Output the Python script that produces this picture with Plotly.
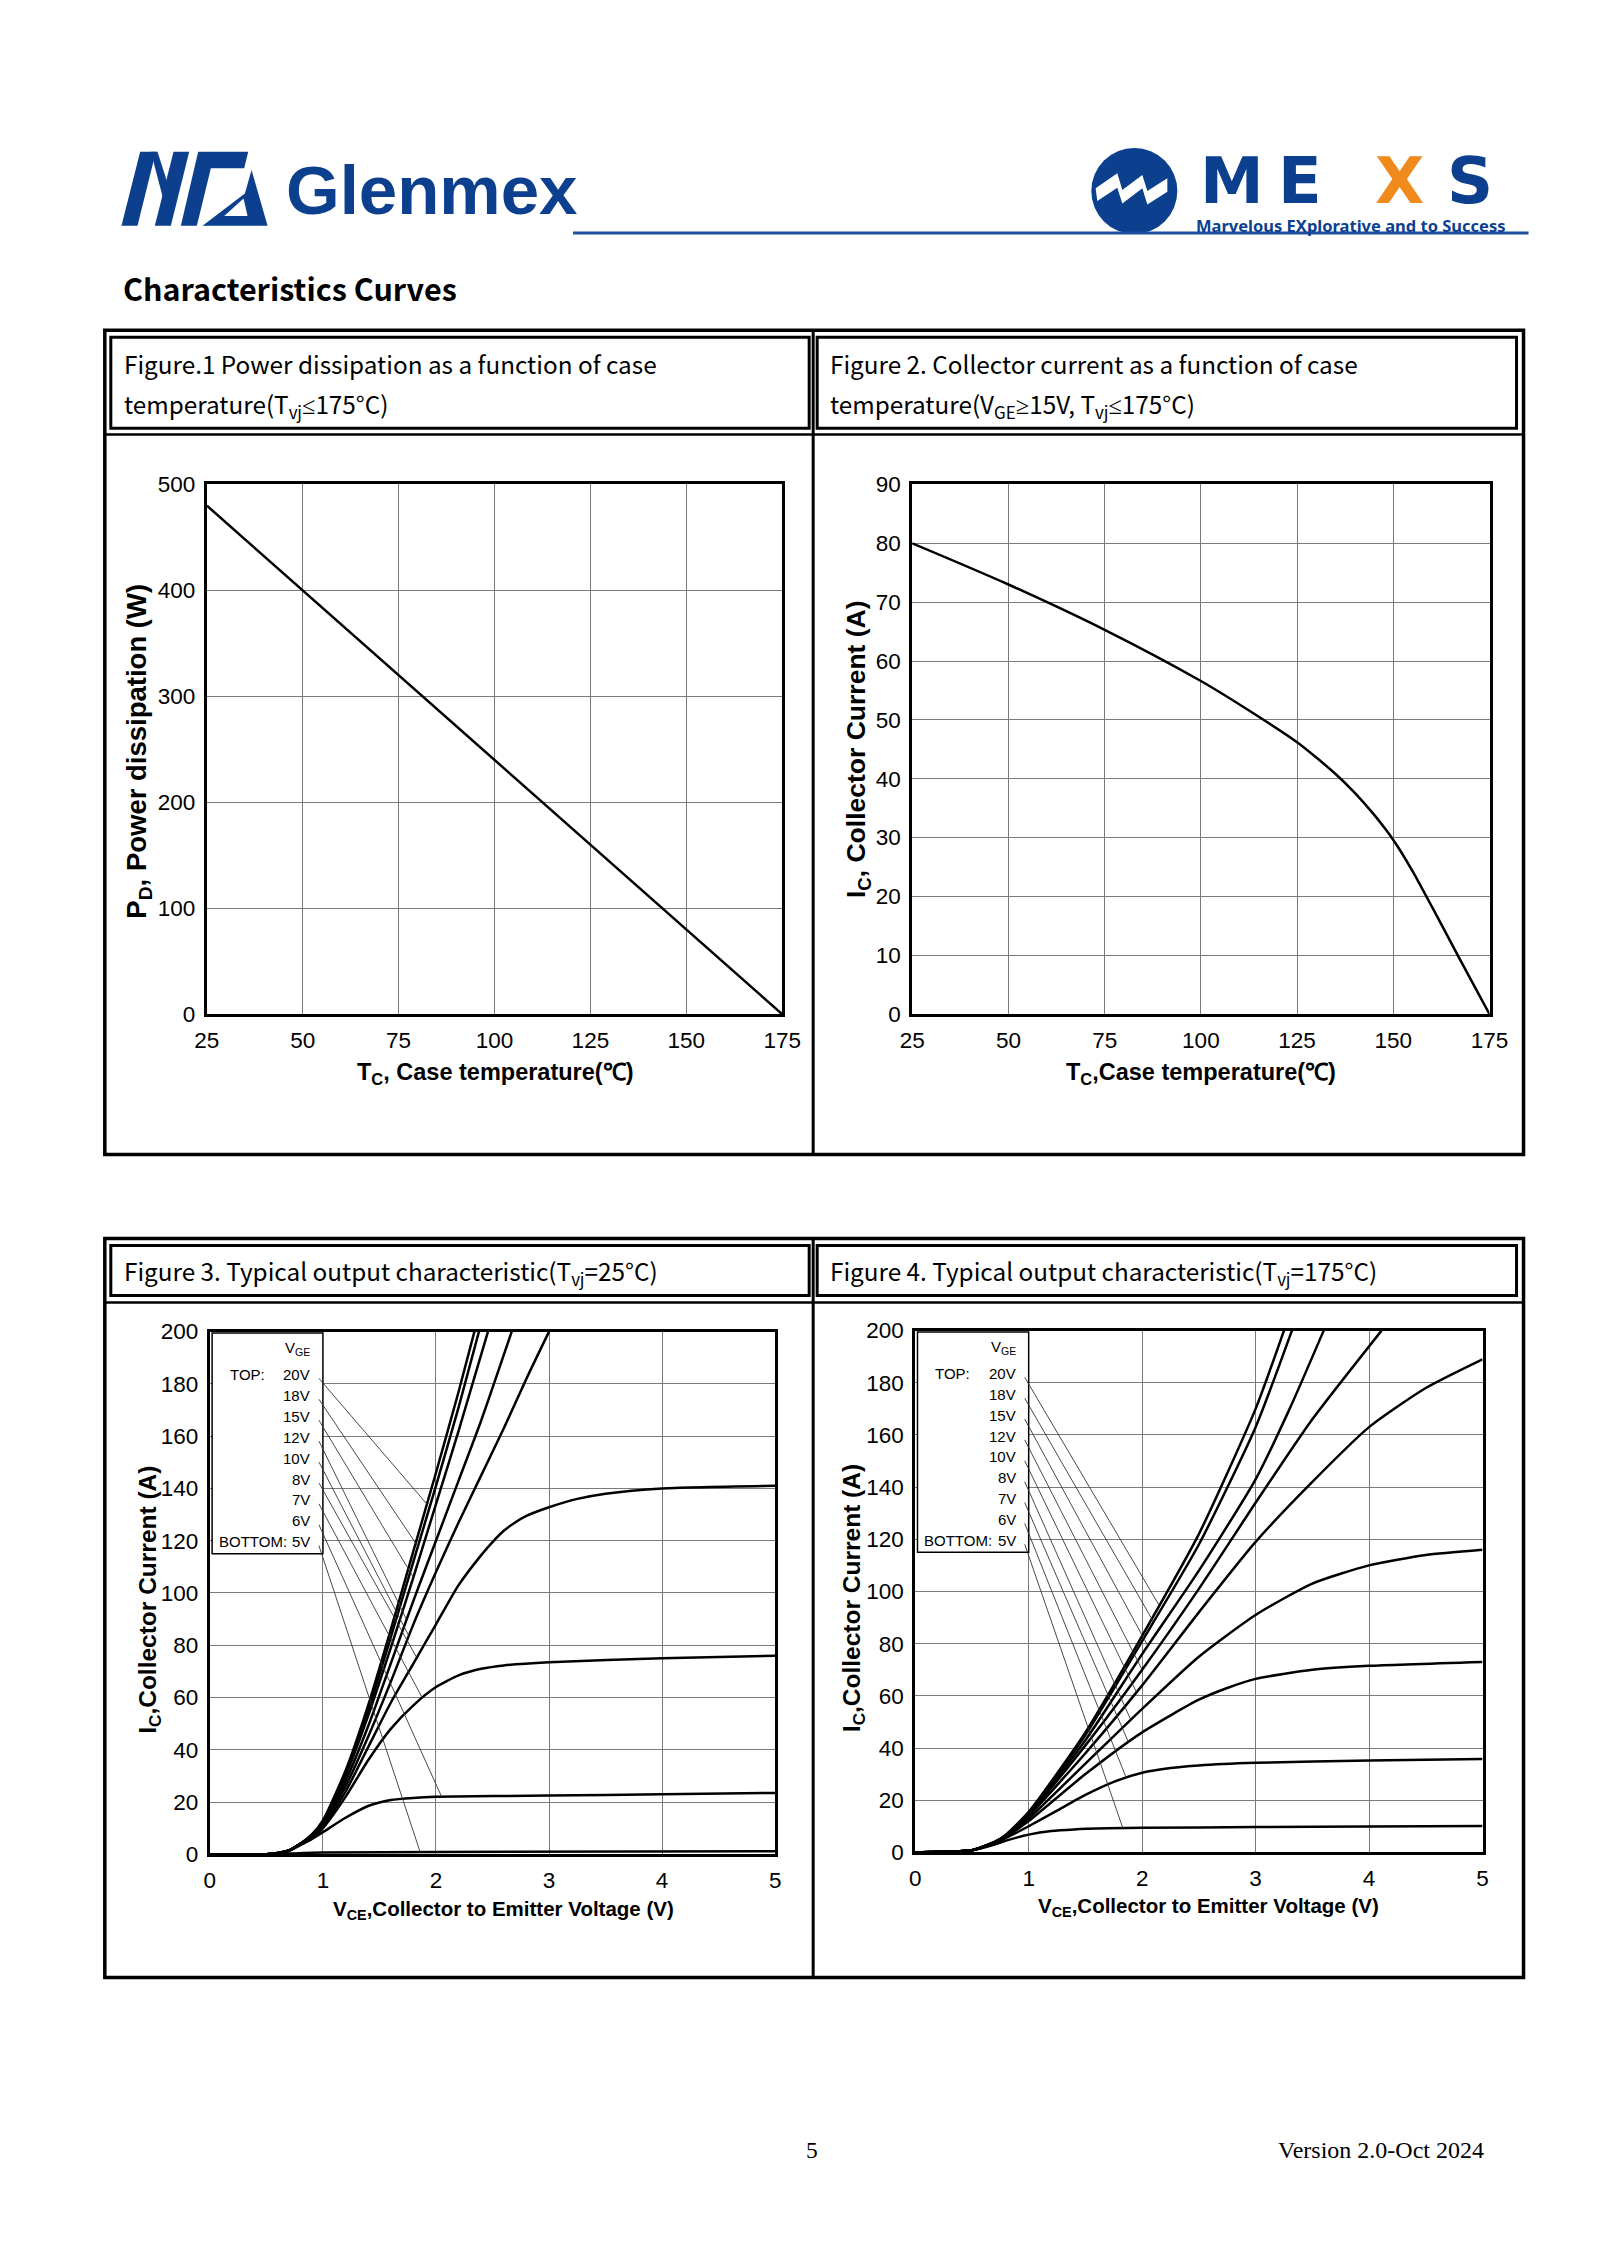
import numpy as np
import plotly.graph_objects as go

W, H = 1600, 2263          # page size
M = 8                      # default body margin of the page
FW, FH = W - 2 * M, H - 2 * M
# measured mapping of the photographed picture: picture = A + S * page
AX, SX = 12.4, 0.9793
AY, SY = 12.3, 0.9875

# ---------------- data ----------------
# Figure 1: power dissipation vs case temperature
fig1_tc = [25, 175]
fig1_pd = [480, 0]

# Figure 2: collector current vs case temperature
fig2_tc = [25, 50, 75, 100, 112, 125, 130, 135, 140, 145, 148, 150, 152, 155, 160, 167, 175]
fig2_ic = [80, 73, 65.3, 56.6, 51.8, 46.2, 43.6, 40.8, 37.6, 33.9, 31.4, 29.6, 27.6, 24.3, 18.3, 9.7, 0]

# Figure 3: output characteristic, Tvj = 25 C
f3_vce_20v = [0, 0.5, 0.6, 0.7, 0.8, 0.9, 1.0, 1.2, 1.4, 1.6, 1.8, 2.0, 2.2, 2.34]
f3_ic_20v = [0, 0, 0.5, 1.5, 4, 7.5, 13, 32, 57, 86, 116, 146, 177, 200]
f3_vce_18v = [0, 0.5, 0.6, 0.7, 0.8, 0.9, 1.0, 1.2, 1.4, 1.6, 1.8, 2.0, 2.2, 2.38]
f3_ic_18v = [0, 0, 0.5, 1.5, 4, 7.3, 12.5, 31, 55, 83, 112, 141, 171, 200]
f3_vce_15v = [0, 0.5, 0.6, 0.7, 0.8, 0.9, 1.0, 1.2, 1.4, 1.6, 1.8, 2.0, 2.2, 2.46]
f3_ic_15v = [0, 0, 0.5, 1.5, 4, 7.1, 12, 30, 53, 79, 106, 134, 162, 200]
f3_vce_12v = [0, 0.5, 0.6, 0.7, 0.8, 0.9, 1.0, 1.2, 1.4, 1.6, 1.8, 2.0, 2.2, 2.4, 2.67]
f3_ic_12v = [0, 0, 0.5, 1.5, 4, 6.8, 11.5, 28, 49, 73, 97, 120, 143, 166, 200]
f3_vce_10v = [0, 0.5, 0.6, 0.7, 0.8, 0.9, 1.0, 1.2, 1.4, 1.6, 1.8, 2.0, 2.2, 2.4, 2.6, 2.8, 3.0]
f3_ic_10v = [0, 0, 0.5, 1.5, 4, 6.5, 11, 26, 45, 66, 88, 108, 127, 145, 163, 182, 200]
f3_vce_8v = [0, 0.5, 0.6, 0.7, 0.8, 0.9, 1.0, 1.2, 1.4, 1.6, 1.8, 2.0, 2.2, 2.4, 2.5, 2.6,
             2.7, 2.8, 3.0, 3.25, 3.5, 4.0, 5.0]
f3_ic_8v = [0, 0, 0.4, 1.5, 4, 6.3, 10.5, 24, 41, 58, 73, 88, 103, 114.5, 119.5, 123.8,
            127, 129.5, 132.8, 136, 138, 140, 141]
f3_vce_7v = [0, 0.5, 0.6, 0.7, 0.8, 0.9, 1.0, 1.2, 1.4, 1.6, 1.8, 2.0, 2.2, 2.4, 2.6, 3.0, 4.0, 5.0]
f3_ic_7v = [0, 0, 0.4, 1.4, 3.8, 6, 10, 22, 36, 48, 57, 64, 68.5, 71, 72.3, 73.5, 75, 76]
f3_vce_6v = [0, 0.5, 0.6, 0.7, 0.8, 0.9, 1.0, 1.2, 1.4, 1.6, 1.8, 2.0, 3.0, 4.0, 5.0]
f3_ic_6v = [0, 0, 0.3, 1.3, 3.5, 5.8, 8.5, 14, 18.5, 20.8, 21.6, 22, 22.5, 23, 23.5]
f3_vce_5v = [0, 0.5, 0.7, 1.0, 2.0, 5.0]
f3_ic_5v = [0, 0, 0.3, 0.7, 0.9, 1.2]

# Figure 4: output characteristic, Tvj = 175 C
f4_vce_20v = [0, 0.3, 0.5, 0.7, 0.8, 1.0, 1.5, 2.0, 2.5, 3.0, 3.25]
f4_ic_20v = [0, 0.3, 0.8, 4, 6.8, 15.5, 46, 83, 122, 170, 200]
f4_vce_18v = [0, 0.3, 0.5, 0.7, 0.8, 1.0, 1.5, 2.0, 2.5, 3.0, 3.32]
f4_ic_18v = [0, 0.3, 0.8, 4, 6.7, 15, 45, 81, 118, 163, 200]
f4_vce_15v = [0, 0.3, 0.5, 0.7, 0.8, 1.0, 1.5, 2.0, 2.5, 3.0, 3.3, 3.6]
f4_ic_15v = [0, 0.3, 0.8, 3.9, 6.6, 15, 43, 76, 108, 143, 170, 200]
f4_vce_12v = [0, 0.3, 0.5, 0.7, 0.8, 1.0, 1.5, 2.0, 2.5, 3.0, 3.5, 4.11]
f4_ic_12v = [0, 0.3, 0.8, 3.9, 6.5, 14.5, 41, 70, 101, 134, 166, 200]
f4_vce_10v = [0, 0.3, 0.5, 0.7, 0.8, 1.0, 1.5, 2.0, 2.5, 3.0, 3.5, 4.0, 4.5, 5.0]
f4_ic_10v = [0, 0.3, 0.8, 3.8, 6.4, 14, 38, 64, 92, 119, 142, 163, 178, 189]
f4_vce_8v = [0, 0.3, 0.5, 0.7, 0.8, 1.0, 1.5, 2.0, 2.5, 3.0, 3.5, 4.0, 4.5, 5.0]
f4_ic_8v = [0, 0.3, 0.8, 3.7, 6.2, 13, 34, 55, 75, 91, 103, 110, 114, 116]
f4_vce_7v = [0, 0.3, 0.5, 0.7, 0.8, 1.0, 1.5, 2.0, 2.5, 2.75, 3.0, 3.5, 4.0, 5.0]
f4_ic_7v = [0, 0.3, 0.8, 3.5, 6, 12, 30, 46, 58.5, 63, 66.5, 70, 71.5, 73]
f4_vce_6v = [0, 0.3, 0.5, 0.7, 0.8, 1.0, 1.25, 1.5, 1.75, 2.0, 2.25, 2.5, 3.0, 4.0, 5.0]
f4_ic_6v = [0, 0.3, 0.8, 3.4, 5.5, 10, 16, 22, 27, 30.5, 32.3, 33.3, 34.3, 35.2, 35.8]
f4_vce_5v = [0, 0.3, 0.5, 0.7, 0.8, 1.0, 1.2, 1.4, 1.7, 2.0, 3.0, 4.0, 5.0]
f4_ic_5v = [0, 0.3, 0.8, 3, 4.5, 6.8, 8.2, 8.8, 9.2, 9.4, 9.7, 9.9, 10.1]

vge_labels = ["20V", "18V", "15V", "12V", "10V", "8V", "7V", "6V", "5V"]
# V_CE where each legend leader line meets its curve
f3_leader_vce = [1.92, 1.84, 1.80, 1.74, 1.76, 1.83, 1.88, 2.05, 1.86]
f4_leader_vce = [2.15, 2.10, 2.05, 2.00, 1.95, 1.90, 1.88, 1.86, 1.83]

f3_curves = [(f3_vce_20v, f3_ic_20v), (f3_vce_18v, f3_ic_18v), (f3_vce_15v, f3_ic_15v),
             (f3_vce_12v, f3_ic_12v), (f3_vce_10v, f3_ic_10v), (f3_vce_8v, f3_ic_8v),
             (f3_vce_7v, f3_ic_7v), (f3_vce_6v, f3_ic_6v), (f3_vce_5v, f3_ic_5v)]
f4_curves = [(f4_vce_20v, f4_ic_20v), (f4_vce_18v, f4_ic_18v), (f4_vce_15v, f4_ic_15v),
             (f4_vce_12v, f4_ic_12v), (f4_vce_10v, f4_ic_10v), (f4_vce_8v, f4_ic_8v),
             (f4_vce_7v, f4_ic_7v), (f4_vce_6v, f4_ic_6v), (f4_vce_5v, f4_ic_5v)]

# ---------------- helpers (target picture pixels -> paper coords) ----------------
def px(x):
    page = (x - AX) / SX
    return (page - M) / FW

def py(y):
    page = (y - AY) / SY
    return 1 - (page - M) / FH

HDR_FONT = "Noto Sans CJK SC, Noto Sans, sans-serif"
CH_FONT = "Liberation Sans, Arial, sans-serif"
BLUE = "#0d3f8f"
SYM = lambda s: f"<span style='font-family:Noto Sans'>{s}</span>"

fig = go.Figure()
shapes = []
annotations = []

def ann(text, x, y, size, family=HDR_FONT, color="black", xanchor="left",
        yanchor="middle", angle=0, bold=False, xref="paper", yref="paper", paper=True):
    if paper:
        xx, yy = px(x), py(y)
    else:
        xx, yy = x, y
    annotations.append(dict(text=text, x=xx, y=yy, xref=xref, yref=yref,
                            showarrow=False, xanchor=xanchor, yanchor=yanchor,
                            textangle=angle,
                            font=dict(family=family, size=size, color=color,
                                      weight="bold" if bold else "normal")))

def rect(x0, y0, x1, y1, lw=3, color="black", fill=None):
    shapes.append(dict(type="rect", xref="paper", yref="paper",
                       x0=px(x0), x1=px(x1), y0=py(y0), y1=py(y1),
                       line=dict(color=color, width=lw),
                       fillcolor=fill if fill else "rgba(0,0,0,0)", layer="above"))

def line(x0, y0, x1, y1, lw=3, color="black"):
    shapes.append(dict(type="line", xref="paper", yref="paper",
                       x0=px(x0), x1=px(x1), y0=py(y0), y1=py(y1),
                       line=dict(color=color, width=lw), layer="above"))

def poly(points, color, ox=0, oy=0, sc=1.0):
    d = "M " + " L ".join(f"{px(ox + x * sc):.5f},{py(oy + y * sc):.5f}" for x, y in points) + " Z"
    shapes.append(dict(type="path", xref="paper", yref="paper", path=d,
                       fillcolor=color, line=dict(width=0), layer="above"))

# ---------------- page header / logos ----------------
mg_ox, mg_oy, mg_sc = 100, 130, 1 / 3
poly([(62, 287), (110, 287), (165, 65), (118, 65)], BLUE, mg_ox, mg_oy, mg_sc)
poly([(150, 65), (170, 65), (210, 190), (196, 240)], BLUE, mg_ox, mg_oy, mg_sc)
poly([(162, 287), (210, 287), (265, 65), (218, 65)], BLUE, mg_ox, mg_oy, mg_sc)
poly([(240, 287), (288, 287), (330, 115), (430, 115), (442, 65), (292, 65)], BLUE, mg_ox, mg_oy, mg_sc)
poly([(305, 287), (500, 287), (452, 120), (432, 190)], BLUE, mg_ox, mg_oy, mg_sc)
poly([(370, 258), (440, 258), (428, 205)], "white", mg_ox, mg_oy, mg_sc)
ann("Glenmex", 283, 190, 69, family="Liberation Sans, sans-serif", color=BLUE, bold=True)

# MEXS logo
shapes.append(dict(type="circle", xref="paper", yref="paper",
                   x0=px(1090), x1=px(1176), y0=py(234), y1=py(148),
                   fillcolor=BLUE, line=dict(width=0), layer="above"))
poly([(103, 175), (168, 130), (183, 180), (243, 135), (258, 183), (318, 145), (318, 185),
      (258, 223), (243, 175), (183, 220), (168, 173), (108, 213)], "white", 1060, 130, 1 / 3)
mexs_letters = [("M", 1231, BLUE), ("E", 1299, BLUE), ("X", 1398, "#f08a1c"), ("S", 1468, BLUE)]
for ch, cx, colr in mexs_letters:
    ann(ch, cx, 181, 64, family="DejaVu Sans, sans-serif", color=colr, xanchor="center", bold=True)
ann("Marvelous EXplorative and to Success", 1350, 225, 16.5, family="Noto Sans, sans-serif",
    color=BLUE, xanchor="center", bold=True)
line(572, 233, 1527, 233, lw=3, color="#1f4e9e")

ann("Characteristics Curves", 120, 288, 30.5, bold=True)

# ---------------- tables ----------------
def table(top, hdr_bot, under, bottom):
    rect(104, top, 1522, bottom, lw=3.5)
    rect(110, top + 7, 808, hdr_bot, lw=3)
    rect(816, top + 7, 1515, hdr_bot, lw=3)
    line(104, under, 1522, under, lw=2.5)
    line(812, top, 812, bottom, lw=3)

table(330, 428, 434, 1153)
table(1237, 1294, 1301, 1975)

HS = 24.3
ann("Figure.1 Power dissipation as a function of case", 121, 363, HS)
ann("temperature(T<sub>vj</sub>" + SYM("≤") + "175°C)", 121, 405, HS)
ann("Figure 2. Collector current as a function of case", 827, 363, HS)
ann("temperature(V<sub>GE</sub>" + SYM("≥") + "15V, T<sub>vj</sub>" + SYM("≤") + "175°C)", 827, 405, HS)
ann("Figure 3. Typical output characteristic(T<sub>vj</sub>=25°C)", 121, 1270, HS)
ann("Figure 4. Typical output characteristic(T<sub>vj</sub>=175°C)", 827, 1270, HS)

# footer
ann("5", 811, 2147, 23.5, family="Liberation Serif, serif", xanchor="center")
ann("Version 2.0-Oct 2024", 1484, 2147, 24, family="Liberation Serif, serif", xanchor="right")

# ---------------- axes ----------------
def axis_style(rng, dtick, domain, anchor):
    return dict(range=rng, dtick=dtick, domain=domain, anchor=anchor,
                showline=True, mirror=True, linecolor="black", linewidth=3,
                showgrid=True, gridcolor="#7a7a7a", gridwidth=1, zeroline=False,
                ticks="", ticklabelstandoff=4, fixedrange=True,
                tickfont=dict(family=CH_FONT, size=22.5, color="black"))

layout_axes = {
    "xaxis": axis_style([25, 175], 25, [px(206), px(781)], "y"),
    "yaxis": axis_style([0, 500], 100, [py(1013), py(484)], "x"),
    "xaxis2": axis_style([25, 175], 25, [px(911), px(1488)], "y2"),
    "yaxis2": axis_style([0, 90], 10, [py(1013), py(484)], "x2"),
    "xaxis3": axis_style([0, 5], 1, [px(209), px(774)], "y3"),
    "yaxis3": axis_style([0, 200], 20, [py(1852), py(1330)], "x3"),
    "xaxis4": axis_style([0, 5], 1, [px(914), px(1481)], "y4"),
    "yaxis4": axis_style([0, 200], 20, [py(1850), py(1329)], "x4"),
}
for k in ("xaxis", "xaxis2"):
    layout_axes[k]["tick0"] = 25

# ---------------- traces ----------------
fig.add_trace(go.Scatter(x=fig1_tc, y=fig1_pd, mode="lines", xaxis="x", yaxis="y",
                         line=dict(color="black", width=2.5), hoverinfo="skip"))
fig.add_trace(go.Scatter(x=fig2_tc, y=fig2_ic, mode="lines", xaxis="x2", yaxis="y2",
                         line=dict(color="black", width=2.5, shape="spline", smoothing=0.8),
                         hoverinfo="skip"))
for (vx, iy), lab in zip(f3_curves, vge_labels):
    fig.add_trace(go.Scatter(x=vx, y=iy, mode="lines", xaxis="x3", yaxis="y3", name=lab,
                             line=dict(color="black", width=2.5, shape="spline", smoothing=0.6),
                             hoverinfo="skip"))
for (vx, iy), lab in zip(f4_curves, vge_labels):
    fig.add_trace(go.Scatter(x=vx, y=iy, mode="lines", xaxis="x4", yaxis="y4", name=lab,
                             line=dict(color="black", width=2.5, shape="spline", smoothing=0.6),
                             hoverinfo="skip"))

# ---------------- axis titles ----------------
ann("P<sub>D</sub>, Power dissipation (W)", 138, 750, 27.5, family=CH_FONT, bold=True,
    xanchor="center", angle=-90)
ann("T<sub>C</sub>, Case temperature(℃)", 494, 1072, 23.5, family=CH_FONT, bold=True, xanchor="center")
ann("I<sub>C</sub>, Collector Current (A)", 857, 748, 26.5, family=CH_FONT, bold=True,
    xanchor="center", angle=-90)
ann("T<sub>C</sub>,Case temperature(℃)", 1200, 1072, 23.5, family=CH_FONT, bold=True, xanchor="center")
ann("I<sub>C</sub>,Collector Current (A)", 149, 1598, 24.5, family=CH_FONT, bold=True,
    xanchor="center", angle=-90)
ann("V<sub>CE</sub>,Collector to Emitter Voltage (V)", 502, 1908, 20.5, family=CH_FONT, bold=True,
    xanchor="center")
ann("I<sub>C</sub>,Collector Current (A)", 853, 1596, 24.5, family=CH_FONT, bold=True,
    xanchor="center", angle=-90)
ann("V<sub>CE</sub>,Collector to Emitter Voltage (V)", 1207, 1905, 20.5, family=CH_FONT, bold=True,
    xanchor="center")

# ---------------- V_GE legend boxes with leader lines ----------------
def vge_legend(xr, yr, curves, targets):
    shapes.append(dict(type="rect", xref=xr, yref=yr, x0=0.02, x1=1.0, y0=115, y1=199.5,
                       fillcolor="white", line=dict(color="black", width=1.5), layer="above"))
    top_y = 183.6
    step = 8.0
    fs = 15
    ann("V<sub>GE</sub>", 0.905, 193.5, fs, family=CH_FONT, xanchor="right",
        xref=xr, yref=yr, paper=False)
    ann("TOP:", 0.16, top_y, fs, family=CH_FONT, xanchor="left", xref=xr, yref=yr, paper=False)
    for i, (lab, (vx, iy), tv) in enumerate(zip(vge_labels, curves, targets)):
        ly = top_y - step * i
        ann(lab, 0.905, ly, fs, family=CH_FONT, xanchor="right", xref=xr, yref=yr, paper=False)
        ty = float(np.interp(tv, vx, iy))
        shapes.append(dict(type="line", xref=xr, yref=yr, x0=0.965, y0=ly - 1.5, x1=tv, y1=ty,
                           line=dict(color="#333333", width=0.9), layer="above"))
    ann("BOTTOM:", 0.06, top_y - step * 8, fs, family=CH_FONT, xanchor="left",
        xref=xr, yref=yr, paper=False)

vge_legend("x3", "y3", f3_curves, f3_leader_vce)
vge_legend("x4", "y4", f4_curves, f4_leader_vce)

fig.update_layout(width=FW, height=FH, margin=dict(l=0, r=0, t=0, b=0),
                  paper_bgcolor="white", plot_bgcolor="white", showlegend=False,
                  shapes=shapes, annotations=annotations, **layout_axes)

fig.write_html("out.html", config={"displayModeBar": False, "staticPlot": True})
